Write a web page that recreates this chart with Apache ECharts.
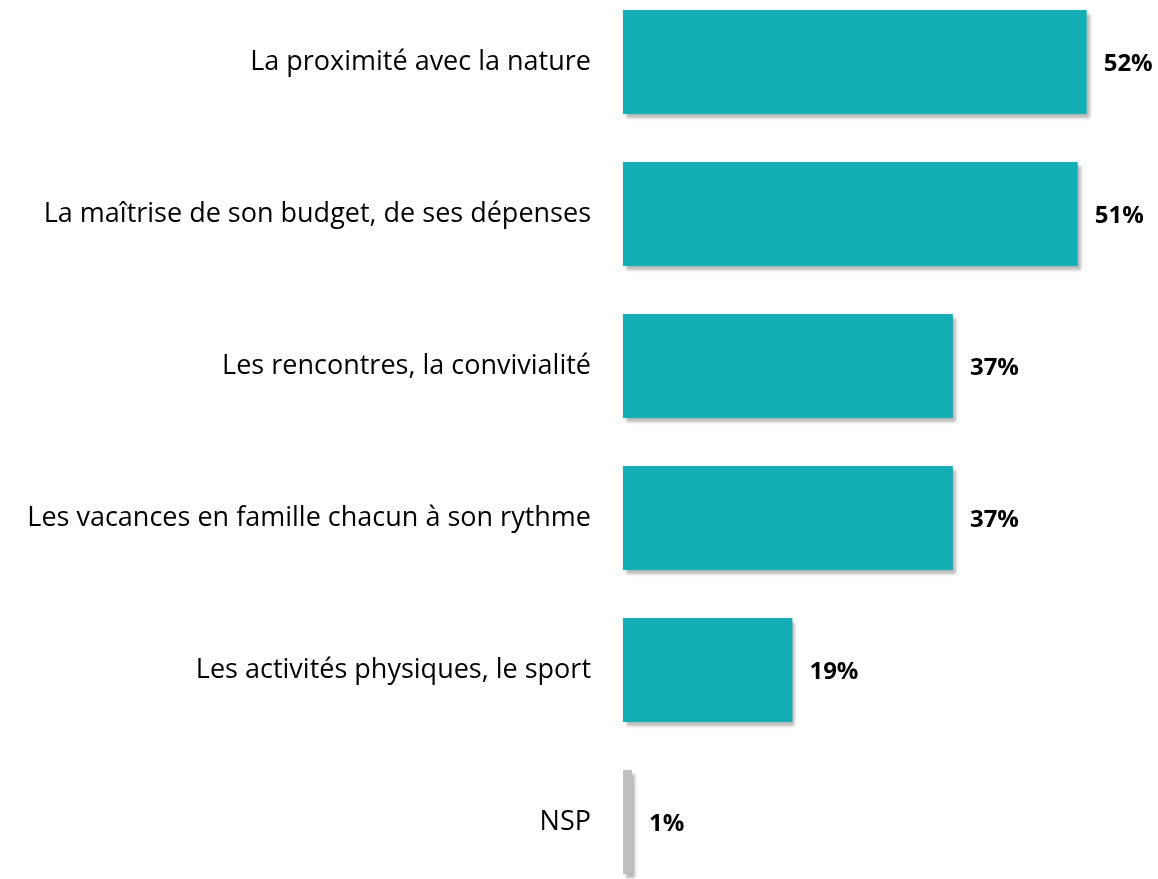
<!DOCTYPE html>
<html>
<head>
<meta charset="utf-8">
<script src="https://cdn.jsdelivr.net/npm/echarts@6/dist/echarts.min.js"></script>
<style>
  html, body { margin: 0; padding: 0; background: #fff; overflow: hidden; }
  /* the chart area runs a bit past the page top and bottom, like the original */
  #chart { width: 1158px; height: 912px; margin-top: -14px; }
</style>
</head>
<body>
<div id="chart"></div>
<script>
// top to bottom order as shown
const categories = [
  'La proximité avec la nature',
  'La maîtrise de son budget, de ses dépenses',
  'Les rencontres, la convivialité',
  'Les vacances en famille chacun à son rythme',
  'Les activités physiques, le sport',
  'NSP'
]
const values = [52, 51, 37, 37, 19, 1]
const barColors = ['#14AEB5', '#14AEB5', '#14AEB5', '#14AEB5', '#14AEB5', '#BFBFBF']

const chart = echarts.init(document.getElementById('chart'), null, {renderer: 'canvas'})

const seriesData = values.map((v, i) => ({
  value: v,
  itemStyle: { color: barColors[i] }
}))

chart.setOption({
  animation: false,
  grid: { left: 623, right: 0, top: 0, bottom: 0, containLabel: false },
  xAxis: {
    type: 'value',
    min: 0,
    max: 60,
    show: false
  },
  yAxis: {
    type: 'category',
    inverse: true,
    data: categories,
    axisLine: { show: false },
    axisTick: { show: false },
    axisLabel: {
      margin: 32,
      color: '#000',
      fontFamily: 'Open Sans',
      fontSize: 27
    }
  },
  series: [{
    type: 'bar',
    data: seriesData,
    barCategoryGap: '31.6%',
    itemStyle: {
      shadowColor: 'rgba(0,0,0,0.28)',
      shadowBlur: 3,
      shadowOffsetX: 3,
      shadowOffsetY: 4
    },
    label: {
      show: true,
      position: 'right',
      distance: 17,
      offset: [0, 2],
      formatter: '{c}%',
      color: '#000',
      fontFamily: 'Open Sans',
      fontWeight: 'bold',
      fontSize: 24
    }
  }]
})
</script>
</body>
</html>
